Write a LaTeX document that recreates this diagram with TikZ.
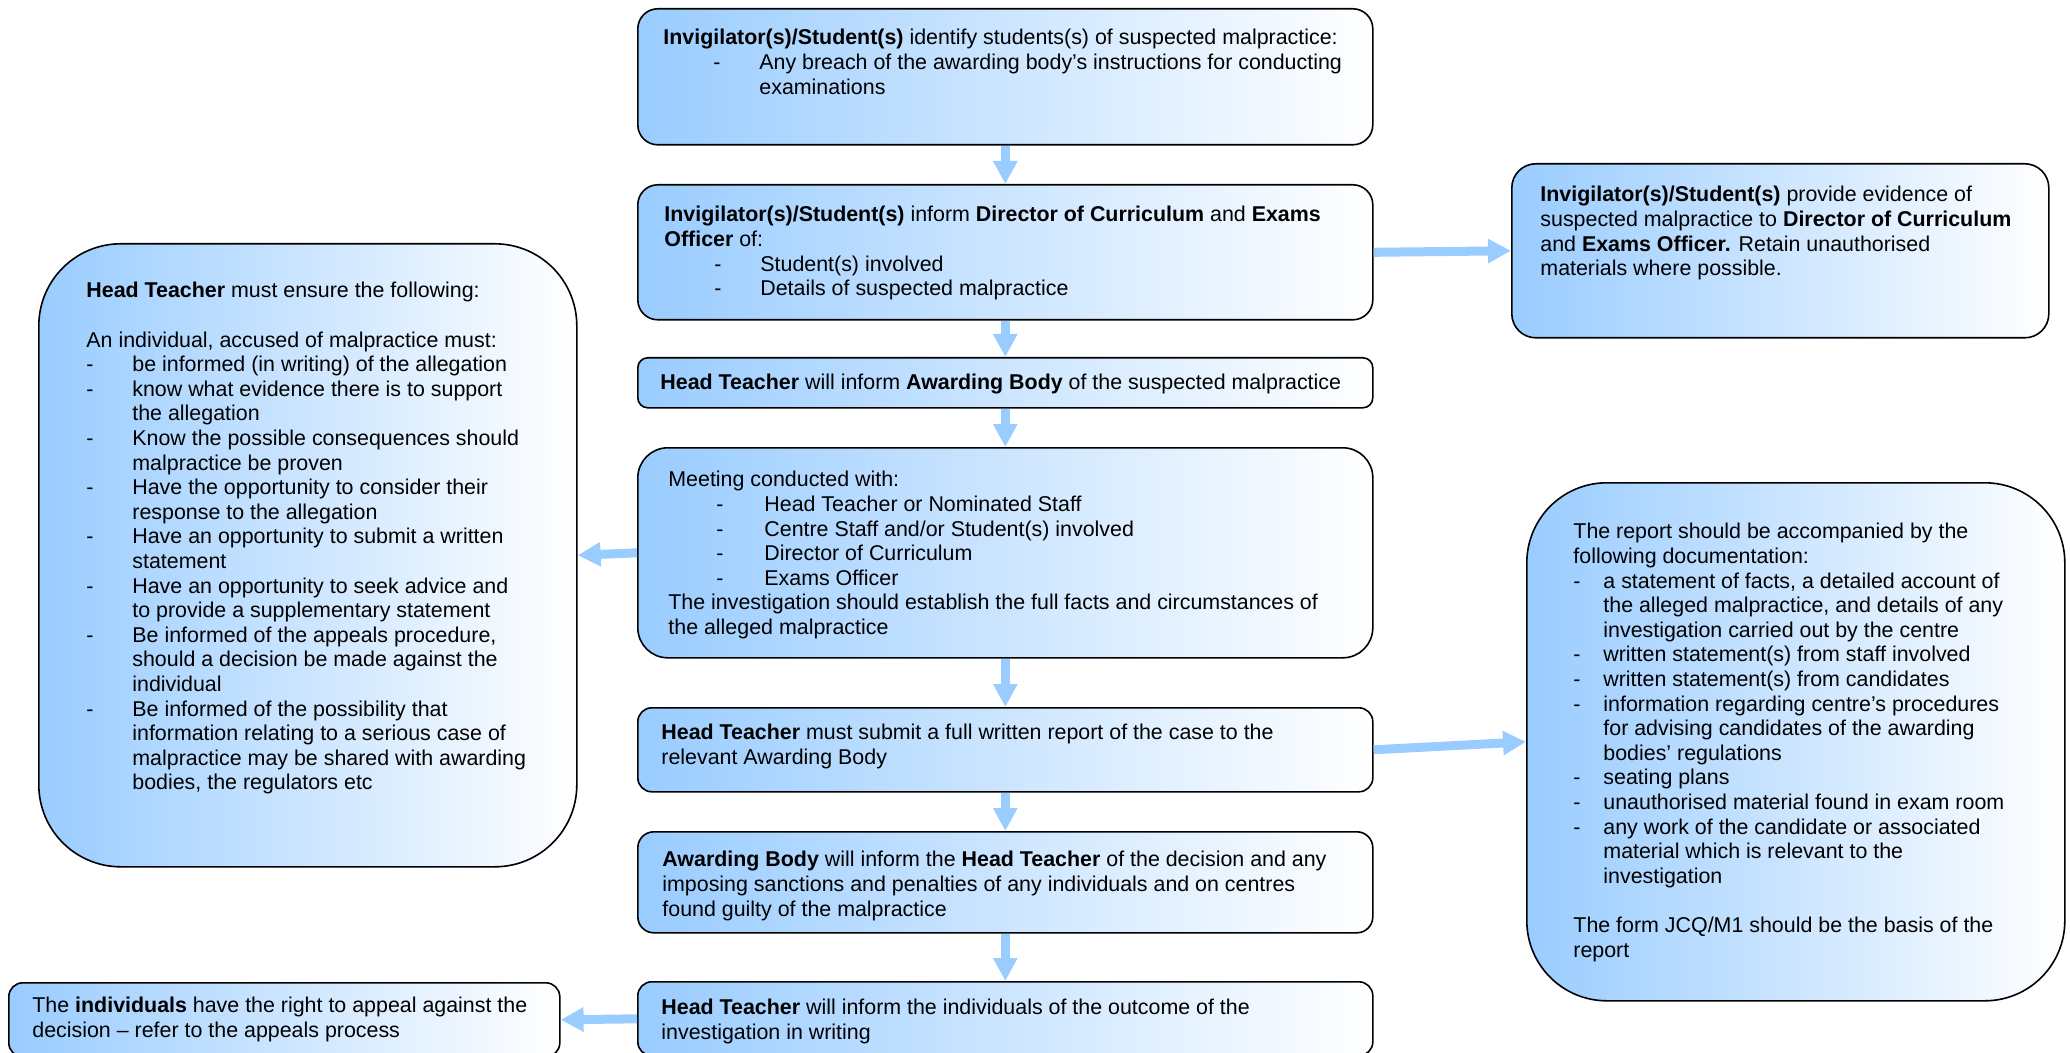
\documentclass[tikz,border=0pt]{standalone}
\usepackage{fontspec}
\setmainfont{Liberation Sans}
\usetikzlibrary{arrows.meta}
\definecolor{boxblue}{HTML}{99CCFF}
\definecolor{arrowblue}{HTML}{99CCFF}
\tikzset{>={Triangle[length=11.5pt,width=11.5pt]}}
\newcommand{\bul}[2]{\hspace*{#1}\makebox[#2][l]{-}}

\begin{document}
\begin{tikzpicture}[x=0.5pt,y=-0.5pt]

\tikzstyle{box}=[draw,line width=0.8pt,left color=boxblue,right color=white,
  anchor=north west,inner sep=0pt]
\tikzstyle{txt}=[anchor=north west,inner sep=0pt,align=left,
  font=\fontsize{10.7pt}{12.3pt}\selectfont]
\tikzstyle{flow}=[->,draw=arrowblue,line width=4.5pt]

\useasboundingbox (0,0) rectangle (2070,1053);
\clip (0,0) rectangle (2070,1053);

% centre column
\node[box,minimum width=367.5pt,minimum height=68pt,rounded corners=10pt] (b1) at (637,8) {};
\node[box,minimum width=367.5pt,minimum height=67.5pt,rounded corners=10pt] (b2) at (637,184) {};
\node[box,minimum width=367.5pt,minimum height=25pt,rounded corners=5pt] (b3) at (637,357) {};
\node[box,minimum width=367.5pt,minimum height=105pt,rounded corners=15pt] (b4) at (637,447) {};
\node[box,minimum width=367.5pt,minimum height=42pt,rounded corners=7pt] (b5) at (637,707) {};
\node[box,minimum width=367.5pt,minimum height=50.5pt,rounded corners=8pt] (b6) at (637,831) {};
\node[box,minimum width=367.5pt,minimum height=37pt,rounded corners=7pt] (b7) at (637,981) {};

% side boxes
\node[box,minimum width=269pt,minimum height=311.5pt,rounded corners=41pt] (lb) at (38,243) {};
\node[box,minimum width=275.5pt,minimum height=37pt,rounded corners=7pt] (lbot) at (8,982) {};
\node[box,minimum width=268.5pt,minimum height=87pt,rounded corners=12pt] (rt) at (1511,163) {};
\node[box,minimum width=269pt,minimum height=259pt,rounded corners=40pt] (rb) at (1526,482) {};

% texts
\node[txt] (t1) at ([shift={(26,21)}]b1.north west)
  {\textbf{Invigilator(s)/Student(s)} identify students(s) of suspected malpractice:\\
   \bul{25pt}{23pt}Any breach of the awarding body’s instructions for conducting\\
   \hspace*{48pt}examinations};
\node[txt] (t2) at ([shift={(27,22)}]b2.north west)
  {\textbf{Invigilator(s)/Student(s)} inform \textbf{Director of Curriculum} and \textbf{Exams}\\
   \textbf{Officer} of:\\
   \bul{25pt}{23pt}Student(s) involved\\
   \bul{25pt}{23pt}Details of suspected malpractice};
\node[txt] (t3) at ([shift={(23,17)}]b3.north west)
  {\textbf{Head Teacher} will inform \textbf{Awarding Body} of the suspected malpractice};
\node[txt] (t4) at ([shift={(31,24)}]b4.north west)
  {Meeting conducted with:\\
   \bul{24pt}{24pt}Head Teacher or Nominated Staff\\
   \bul{24pt}{24pt}Centre Staff and/or Student(s) involved\\
   \bul{24pt}{24pt}Director of Curriculum\\
   \bul{24pt}{24pt}Exams Officer\\
   The investigation should establish the full facts and circumstances of\\
   the alleged malpractice};
\node[txt] (t5) at ([shift={(24,17)}]b5.north west)
  {\textbf{Head Teacher} must submit a full written report of the case to the\\
   relevant Awarding Body};
\node[txt] (t6) at ([shift={(25,20)}]b6.north west)
  {\textbf{Awarding Body} will inform the \textbf{Head Teacher} of the decision and any\\
   imposing sanctions and penalties of any individuals and on centres\\
   found guilty of the malpractice};
\node[txt] (t7) at ([shift={(24,18)}]b7.north west)
  {\textbf{Head Teacher} will inform the individuals of the outcome of the\\
   investigation in writing};

\node[txt] (tl) at ([shift={(48,39)}]lb.north west)
  {\textbf{Head Teacher} must ensure the following:\\[12.3pt]
   An individual, accused of malpractice must:\\
   \bul{0pt}{23pt}be informed (in writing) of the allegation\\
   \bul{0pt}{23pt}know what evidence there is to support\\
   \hspace*{23pt}the allegation\\
   \bul{0pt}{23pt}Know the possible consequences should\\
   \hspace*{23pt}malpractice be proven\\
   \bul{0pt}{23pt}Have the opportunity to consider their\\
   \hspace*{23pt}response to the allegation\\
   \bul{0pt}{23pt}Have an opportunity to submit a written\\
   \hspace*{23pt}statement\\
   \bul{0pt}{23pt}Have an opportunity to seek advice and\\
   \hspace*{23pt}to provide a supplementary statement\\
   \bul{0pt}{23pt}Be informed of the appeals procedure,\\
   \hspace*{23pt}should a decision be made against the\\
   \hspace*{23pt}individual\\
   \bul{0pt}{23pt}Be informed of the possibility that\\
   \hspace*{23pt}information relating to a serious case of\\
   \hspace*{23pt}malpractice may be shared with awarding\\
   \hspace*{23pt}bodies, the regulators etc};
\node[txt] (tlb) at ([shift={(24,15)}]lbot.north west)
  {The \textbf{individuals} have the right to appeal against the\\
   decision – refer to the appeals process};
\node[txt] (trt) at ([shift={(29,23)}]rt.north west)
  {\textbf{Invigilator(s)/Student(s)} provide evidence of\\
   suspected malpractice to \textbf{Director of Curriculum}\\
   and \textbf{Exams Officer.} Retain unauthorised\\
   materials where possible.};
\node[txt] (trb) at ([shift={(47,41)}]rb.north west)
  {The report should be accompanied by the\\
   following documentation:\\
   \bul{0pt}{15pt}a statement of facts, a detailed account of\\
   \hspace*{15pt}the alleged malpractice, and details of any\\
   \hspace*{15pt}investigation carried out by the centre\\
   \bul{0pt}{15pt}written statement(s) from staff involved\\
   \bul{0pt}{15pt}written statement(s) from candidates\\
   \bul{0pt}{15pt}information regarding centre’s procedures\\
   \hspace*{15pt}for advising candidates of the awarding\\
   \hspace*{15pt}bodies’ regulations\\
   \bul{0pt}{15pt}seating plans\\
   \bul{0pt}{15pt}unauthorised material found in exam room\\
   \bul{0pt}{15pt}any work of the candidate or associated\\
   \hspace*{15pt}material which is relevant to the\\
   \hspace*{15pt}investigation\\[12.3pt]
   The form JCQ/M1 should be the basis of the\\
   report};

% arrows
\draw[flow] (b1) -- (b2);
\draw[flow] (b2) -- (b3);
\draw[flow] (b3) -- (b4);
\draw[flow] (b4) -- (b5);
\draw[flow] (b5) -- (b6);
\draw[flow] (b6) -- (b7);
\draw[flow] (b2.east) -- (rt.west);
\draw[flow] (b4.west) -- (lb.east);
\draw[flow] (b5.east) -- (rb.west);
\draw[flow] (b7.west) -- (lbot.east);
\end{tikzpicture}
\end{document}
